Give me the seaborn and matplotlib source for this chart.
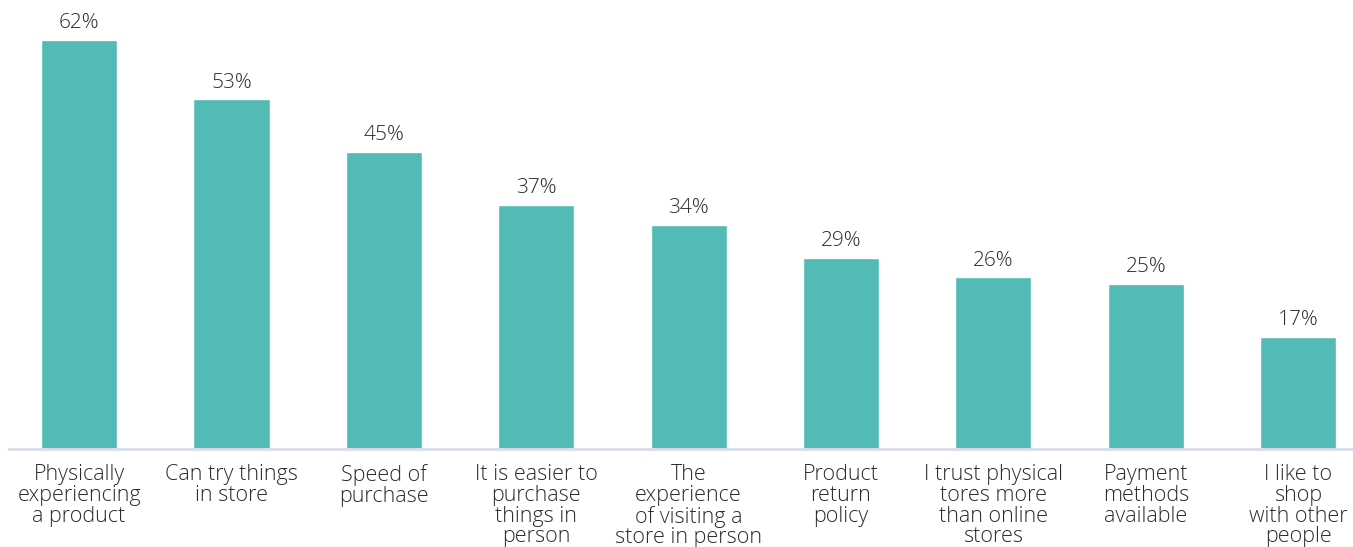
import matplotlib
matplotlib.use("Agg")
import matplotlib.pyplot as plt
import seaborn as sns
import pandas as pd

categories = [
    "Physically\nexperiencing\na product",
    "Can try things\nin store",
    "Speed of\npurchase",
    "It is easier to\npurchase\nthings in\nperson",
    "The\nexperience\nof visiting a\nstore in person",
    "Product\nreturn\npolicy",
    "I trust physical\ntores more\nthan online\nstores",
    "Payment\nmethods\navailable",
    "I like to\nshop\nwith other\npeople",
]
values = [62, 53, 45, 37, 34, 29, 26, 25, 17]

sns.set_theme(style="white")
plt.rcParams["font.family"] = ["Open Sans", "DejaVu Sans"]

df = pd.DataFrame({"reason": categories, "share": values})

fig = plt.figure(figsize=(13.53, 5.47), dpi=100)
ax = fig.add_axes([9 / 1353, 98 / 547, 1344 / 1353, 449 / 547])

sns.barplot(data=df, x="reason", y="share", color="#52BBB6", saturation=1,
            width=0.5, ax=ax)

for i, v in enumerate(values):
    ax.text(i, v + 1.0, f"{v}%", ha="center", va="bottom",
            fontsize=15, color="#2b2b2b", fontweight="light")

ax.set_xlim(-0.46, 8.36)
ax.set_ylim(0, 68.03)
ax.set_xlabel("")
ax.set_ylabel("")
ax.set_yticks([])
for s in ["top", "right", "left"]:
    ax.spines[s].set_visible(False)
ax.spines["bottom"].set_color("#DCDCEB")
ax.spines["bottom"].set_linewidth(2)
ax.tick_params(axis="x", length=0, pad=11, labelsize=15.5, labelcolor="#2b2b2b")
for lbl in ax.get_xticklabels():
    lbl.set_linespacing(0.98)
    lbl.set_verticalalignment("top")
    lbl.set_fontweight("light")

fig.savefig("out.png", dpi=100)
